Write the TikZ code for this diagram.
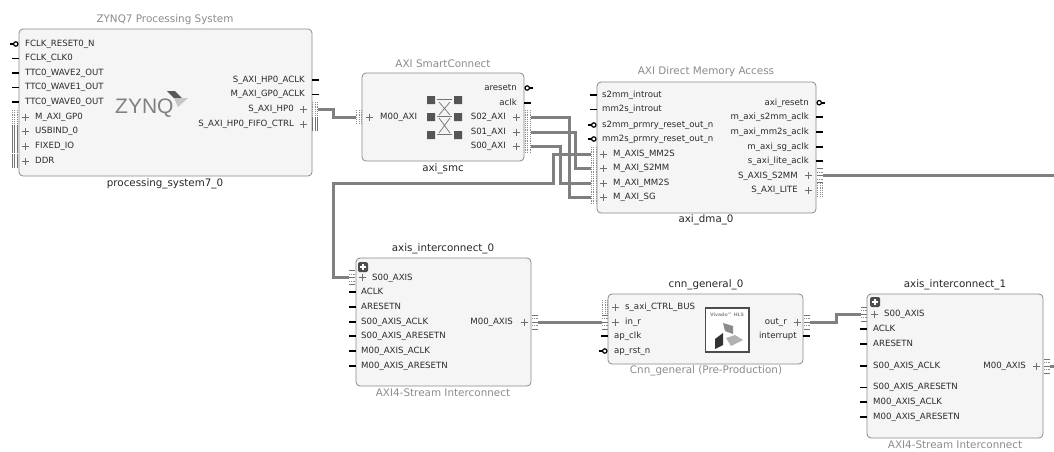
\documentclass[tikz,border=0pt]{standalone}
\usepackage{fontspec}
\setmainfont{DejaVu Sans}
\newfontfamily\zynqfont{Liberation Sans}
\definecolor{wirec}{HTML}{808080}
\definecolor{boxf}{HTML}{F5F5F5}
\definecolor{boxd}{HTML}{8A8A8A}
\definecolor{txtc}{HTML}{2A2A2A}
\definecolor{sub}{HTML}{8C8C8C}
\definecolor{iconc}{HTML}{555555}
\tikzset{
 block/.style={draw=boxd,fill=boxf,rounded corners=4pt,line width=0.8pt,anchor=north west,inner sep=0pt,outer sep=0pt},
 ptxt/.style={font=\fontsize{8.6}{9}\selectfont,text=txtc,inner sep=0pt,text height=6.4pt,text depth=1.6pt},
 ltxt/.style={ptxt,anchor=west},
 rtxt/.style={ptxt,anchor=east},
 title/.style={font=\fontsize{10.4}{12}\selectfont,text=sub,inner sep=0pt},
 inst/.style={font=\fontsize{10.3}{12}\selectfont,text=black!85,inner sep=0pt},
 pinw/.style={line width=1.6pt,black},
 pinc/.style={line width=1.2pt,black,fill=white},
 plusm/.style={line width=0.7pt,wirec!85!black},
 wire/.style={line width=3pt,wirec,line join=miter},
 busnode/.style={inner sep=0pt,outer sep=0pt,minimum width=6pt,minimum height=14pt},
 dotl/.style={line width=0.8pt,black!45,dash pattern=on 0.9pt off 0.9pt},
 soll/.style={line width=0.8pt,black!55},
 sq/.style={fill=iconc,draw=none},
 iconl/.style={line width=0.7pt,black!55},
 addbtn/.style={fill=black!70,rounded corners=1.5pt,draw=none},
}
% pins: edge x, y
\newcommand{\Lclk}[2]{\draw[pinw] (#1-7,#2) -- (#1,#2);}
\newcommand{\Rclk}[2]{\draw[pinw] (#1,#2) -- (#1+7,#2);}
\newcommand{\Lrst}[2]{\draw[pinw] (#1-9,#2) -- (#1-5,#2); \draw[pinc] (#1-3.2,#2) circle (2.2);}
\newcommand{\Rrst}[2]{\draw[pinw] (#1+5,#2) -- (#1+9,#2); \draw[pinc] (#1+3.2,#2) circle (2.2);}
\newcommand{\plusat}[2]{\draw[plusm] (#1-3.5,#2) -- (#1+3.5,#2) (#1,#2-3.5) -- (#1,#2+3.5);}
% bus icons: name, left x, centre y
\newcommand{\busdot}[3]{\node[busnode] (#1) at (#2+3,#3) {};
 \draw[dotl] (#2+0.5,#3-7) -- (#2+0.5,#3+7) (#2+3,#3-7) -- (#2+3,#3+7) (#2+5.5,#3-7) -- (#2+5.5,#3+7);}
\newcommand{\bussol}[3]{\node[busnode] (#1) at (#2+3,#3) {};
 \draw[soll] (#2+0.5,#3-7) -- (#2+0.5,#3+7) (#2+3,#3-7) -- (#2+3,#3+7) (#2+5.5,#3-7) -- (#2+5.5,#3+7);}
\newcommand{\busaxi}[3]{\node[busnode] (#1) at (#2+3,#3) {};
 \draw[soll] (#2,#3-7) -- (#2+6,#3-7) (#2,#3+7) -- (#2+6,#3+7) (#2,#3) -- (#2+6,#3);
 \draw[dotl] (#2,#3-3.5) -- (#2+6,#3-3.5) (#2,#3+3.5) -- (#2+6,#3+3.5);}
\newcommand{\btn}[2]{\fill[addbtn] (#1-5,#2-5) rectangle (#1+5,#2+5);
 \draw[white,line width=1.1pt] (#1-2.7,#2) -- (#1+2.7,#2) (#1,#2-2.7) -- (#1,#2+2.7);}
\begin{document}
\begin{tikzpicture}[x=1pt,y=-1pt]
\useasboundingbox (0,0) rectangle (1054,451);
\fill[white] (0,0) rectangle (1054,451);

% ---------- blocks
\node[block,minimum width=293pt,minimum height=147pt] (ps) at (19,29) {};
\node[block,minimum width=162pt,minimum height=88pt] (smc) at (362,73) {};
\node[block,minimum width=219pt,minimum height=131pt] (dma) at (597,82) {};
\node[block,minimum width=175pt,minimum height=128pt] (ic0) at (356,258) {};
\node[block,minimum width=195pt,minimum height=70pt] (cnn) at (608,294) {};
\node[block,minimum width=176pt,minimum height=144pt] (ic1) at (867,294) {};

% ---------- titles
\node[title] (psT) at (165,20) {ZYNQ7 Processing System};
\node[inst] (psI) at (165,184) {processing\_system7\_0};
\node[title] (smcT) at (443,64) {AXI SmartConnect};
\node[inst] (smcI) at (443,168.5) {axi\_smc};
\node[title] (dmaT) at (706,72) {AXI Direct Memory Access};
\node[inst] (dmaI) at (706,220) {axi\_dma\_0};
\node[inst] (ic0I) at (443,249) {axis\_interconnect\_0};
\node[title] (ic0T) at (443,393) {AXI4-Stream Interconnect};
\node[inst] (cnnI) at (706,285) {cnn\_general\_0};
\node[title] (cnnT) at (706,371) {Cnn\_general (Pre-Production)};
\node[inst] (ic1I) at (955,285) {axis\_interconnect\_1};
\node[title] (ic1T) at (955,445) {AXI4-Stream Interconnect};

% ---------- PS ports
\Lrst{19}{44} \node[ltxt] (p1) at (25,44) {FCLK\_RESET0\_N};
\Lclk{19}{58.5} \node[ltxt] (p2) at (25,58.5) {FCLK\_CLK0};
\Lclk{19}{73} \node[ltxt] (p3) at (25,73) {TTC0\_WAVE2\_OUT};
\Lclk{19}{87.5} \node[ltxt] (p4) at (25,87.5) {TTC0\_WAVE1\_OUT};
\Lclk{19}{102} \node[ltxt] (p5) at (25,102) {TTC0\_WAVE0\_OUT};
\busdot{psgp}{11.5}{117} \plusat{25}{117} \node[ltxt] (p6) at (35,117) {M\_AXI\_GP0};
\bussol{psusb}{11.5}{131.5} \plusat{25}{131.5} \node[ltxt] (p7) at (35,131.5) {USBIND\_0};
\bussol{psfix}{11.5}{146} \plusat{25}{146} \node[ltxt] (p8) at (35,146) {FIXED\_IO};
\bussol{psddr}{11.5}{161} \plusat{25}{161} \node[ltxt] (p9) at (35,161) {DDR};
\Rclk{312}{80} \node[rtxt] (p10) at (305,80) {S\_AXI\_HP0\_ACLK};
\Rclk{312}{94.5} \node[rtxt] (p11) at (305,94.5) {M\_AXI\_GP0\_ACLK};
\busdot{pshp}{312}{109} \plusat{303}{109} \node[rtxt] (p12) at (294,109) {S\_AXI\_HP0};
\bussol{psfifo}{312}{124} \plusat{303}{124} \node[rtxt] (p13) at (294,124) {S\_AXI\_HP0\_FIFO\_CTRL};
% ZYNQ logo
\node[inner sep=0pt,anchor=base west,text=black!50] (zynq) at (115,113) {\zynqfont\fontsize{21}{22}\selectfont ZYNQ};
\fill[black!65] (167,91) -- (175,91) -- (182,98) -- (174,98) -- cycle;
\fill[black!22] (174,98) -- (188,98) -- (178,107) -- cycle;

% ---------- SmartConnect ports
\busdot{smcm}{356}{117} \plusat{369}{117} \node[ltxt] (s1) at (380,117) {M00\_AXI};
\Rrst{524}{88} \node[rtxt] (s2) at (517,88) {aresetn};
\Rclk{524}{102.7} \node[rtxt] (s3) at (517,102.7) {aclk};
\busdot{smcs2}{524.5}{117} \plusat{516}{117} \node[rtxt] (s4) at (506,117) {S02\_AXI};
\busdot{smcs1}{524.5}{132} \plusat{516}{132} \node[rtxt] (s5) at (506,132) {S01\_AXI};
\busdot{smcs0}{524.5}{146.5} \plusat{516}{146.5} \node[rtxt] (s6) at (506,146.5) {S00\_AXI};
% crossbar icon
\fill[sq] (427,96) rectangle (435,104) (454,96) rectangle (462,104)
          (427,113) rectangle (435,121) (454,113) rectangle (462,121)
          (427,131) rectangle (435,139) (454,131) rectangle (462,139);
\draw[iconl] (437,99.5) -- (452,99.5) (437,116.5) -- (452,116.5) (437,134.5) -- (452,134.5)
             (439,102) -- (450,115) (450,102) -- (439,115) (439,118) -- (450,133) (450,118) -- (439,133);

% ---------- DMA ports
\Lclk{597}{95} \node[ltxt] (d1) at (602,95) {s2mm\_introut};
\Lclk{597}{109.5} \node[ltxt] (d2) at (602,109.5) {mm2s\_introut};
\Lrst{597}{125} \node[ltxt] (d3) at (602,125) {s2mm\_prmry\_reset\_out\_n};
\Lrst{597}{139} \node[ltxt] (d4) at (602,139) {mm2s\_prmry\_reset\_out\_n};
\busdot{dmaA}{590.5}{154} \plusat{603}{154} \node[ltxt] (d5) at (613,154) {M\_AXIS\_MM2S};
\busdot{dmaB}{590.5}{168.5} \plusat{603}{168.5} \node[ltxt] (d6) at (613,168.5) {M\_AXI\_S2MM};
\busdot{dmaC}{590.5}{183} \plusat{603}{183} \node[ltxt] (d7) at (613,183) {M\_AXI\_MM2S};
\busdot{dmaD}{590.5}{197.5} \plusat{603}{197.5} \node[ltxt] (d8) at (613,197.5) {M\_AXI\_SG};
\Rrst{816}{102.7} \node[rtxt] (d9) at (809,102.7) {axi\_resetn};
\Rclk{816}{117} \node[rtxt] (d10) at (809,117) {m\_axi\_s2mm\_aclk};
\Rclk{816}{132} \node[rtxt] (d11) at (809,132) {m\_axi\_mm2s\_aclk};
\Rclk{816}{146.7} \node[rtxt] (d12) at (809,146.7) {m\_axi\_sg\_aclk};
\Rclk{816}{161} \node[rtxt] (d13) at (809,161) {s\_axi\_lite\_aclk};
\busaxi{dmaS}{817}{175.7} \plusat{808}{175.7} \node[rtxt] (d14) at (798,175.7) {S\_AXIS\_S2MM};
\busdot{dmaL}{817}{190} \plusat{808}{190} \node[rtxt] (d15) at (798,190) {S\_AXI\_LITE};
\coordinate (dmaOut) at (1054,175.7);

% ---------- interconnect 0
\btn{363}{267}
\busaxi{i0s}{349}{277.7} \plusat{362}{277.7} \node[ltxt] (i1) at (372,277.7) {S00\_AXIS};
\Lclk{356}{292} \node[ltxt] (i2) at (361,292) {ACLK};
\Lclk{356}{307} \node[ltxt] (i3) at (361,307) {ARESETN};
\Lclk{356}{322} \node[ltxt] (i4) at (361,322) {S00\_AXIS\_ACLK};
\Lclk{356}{336} \node[ltxt] (i5) at (361,336) {S00\_AXIS\_ARESETN};
\Lclk{356}{351} \node[ltxt] (i6) at (361,351) {M00\_AXIS\_ACLK};
\Lclk{356}{366} \node[ltxt] (i7) at (361,366) {M00\_AXIS\_ARESETN};
\busaxi{i0m}{532}{322} \plusat{524}{322} \node[rtxt] (i8) at (513,322) {M00\_AXIS};

% ---------- cnn
\busdot{cnnc}{602}{307} \plusat{615}{307} \node[ltxt] (c1) at (625,307) {s\_axi\_CTRL\_BUS};
\busaxi{cnni}{602}{322} \plusat{615}{322} \node[ltxt] (c2) at (625,322) {in\_r};
\Lclk{608}{336} \node[ltxt] (c3) at (614,336) {ap\_clk};
\Lrst{608}{351} \node[ltxt] (c4) at (614,351) {ap\_rst\_n};
\busaxi{cnno}{804}{322} \plusat{797}{322} \node[rtxt] (c5) at (787,322) {out\_r};
\Rclk{803}{336} \node[rtxt] (c6) at (797,336) {interrupt};
% HLS logo
\draw[line width=1.8pt,black!70,fill=white] (705.5,308) rectangle (749,352);
\node[inner sep=0pt,text=black!45,font=\bfseries\fontsize{4.6}{5}\selectfont] (hls) at (727,315) {Vivado™ HLS};
\fill[black!45] (723,323) -- (733,326) -- (733,334) -- (725,331) -- cycle;
\fill[black!80] (715,339) -- (723,333) -- (723,345) -- (715,349) -- cycle;
\fill[black!30] (726,338) -- (735,335) -- (743,340) -- (731,346) -- cycle;

% ---------- interconnect 1
\btn{875}{302}
\busaxi{i1s}{861}{314} \plusat{874}{314} \node[ltxt] (j1) at (884,314) {S00\_AXIS};
\Lclk{867}{329} \node[ltxt] (j2) at (873,329) {ACLK};
\Lclk{867}{344} \node[ltxt] (j3) at (873,344) {ARESETN};
\Lclk{867}{366} \node[ltxt] (j4) at (873,366) {S00\_AXIS\_ACLK};
\Lclk{867}{387.5} \node[ltxt] (j5) at (873,387.5) {S00\_AXIS\_ARESETN};
\Lclk{867}{402} \node[ltxt] (j6) at (873,402) {M00\_AXIS\_ACLK};
\Lclk{867}{417} \node[ltxt] (j7) at (873,417) {M00\_AXIS\_ARESETN};
\busaxi{i1m}{1044}{366} \plusat{1036}{366} \node[rtxt] (j8) at (1026,366) {M00\_AXIS};
\coordinate (i1Out) at (1054,366);

% ---------- connectors
\draw[wire] (pshp.east) -| ++(15,8) -- (smcm.west);
\draw[wire] (smcs2.east) -| ++(39,80.5) -- (dmaD.west);
\draw[wire] (smcs1.east) -| ++(45,36.5) -- (dmaB.west);
\draw[wire] (smcs0.east) -| ++(30,36.5) -- (dmaC.west);
\draw[wire] (i0s.west) -| ++(-16,-94.7) -| ++(220,-29) -- (dmaA.west);
\draw[wire] (dmaS.east) -- (dmaOut);
\draw[wire] (i0m.east) -- (cnni.west);
\draw[wire] (cnno.east) -| ++(26,-8) -- (i1s.west);
\draw[wire] (i1m.east) -- (i1Out);
\end{tikzpicture}
\end{document}
